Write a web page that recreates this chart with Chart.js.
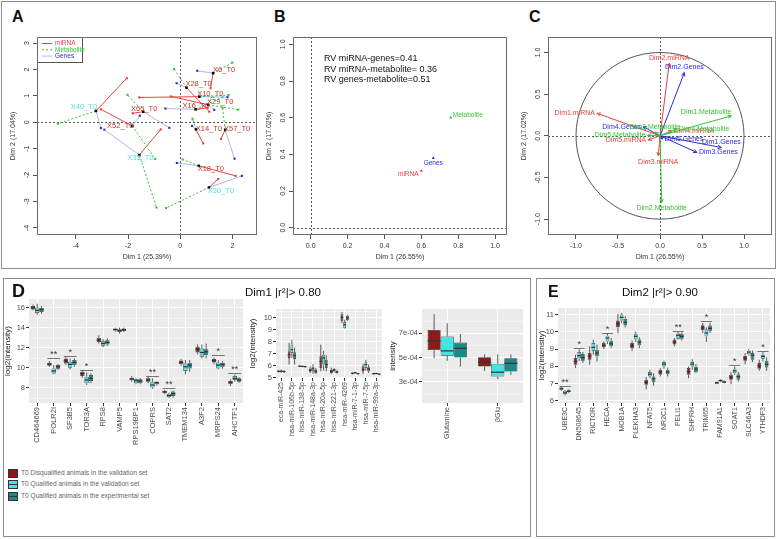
<!DOCTYPE html>
<html>
<head>
<meta charset="utf-8">
<script src="https://cdn.jsdelivr.net/npm/chart.js@4.4.1/dist/chart.umd.min.js"></script>
<style>
  body { margin: 0; background: #fff; }
  #page { position: relative; width: 778px; height: 539px; overflow: hidden; font-family: "Liberation Sans", Arial, sans-serif; }
  #page canvas { position: absolute; }
  .frame { position: absolute; border: 1px solid #8c8c8c; box-sizing: border-box; }
  .tag { position: absolute; font-weight: bold; font-size: 16px; line-height: 16px; color: #111; }
  .ttl { position: absolute; font-size: 11.5px; line-height: 12px; color: #111; white-space: nowrap; }
  .lg { position: absolute; left: 8px; font-size: 6.6px; line-height: 9px; color: #666; white-space: nowrap; }
  .key { display: inline-block; position: relative; width: 8px; height: 7px; border: 1px solid #333; vertical-align: middle; margin-right: 3px; box-sizing: content-box; }
  .key::after { content: ""; position: absolute; left: 0; right: 0; top: 3px; border-top: 1px solid #333; }
</style>
</head>
<body>
<div id="page">
  <div class="frame" style="left:1px;top:1px;width:775px;height:268px"></div>
  <div class="frame" style="left:3px;top:278px;width:528px;height:259px"></div>
  <div class="frame" style="left:536px;top:278px;width:239px;height:259px"></div>

  <canvas id="pa" width="262" height="236" style="left:0;top:30px"></canvas>
  <canvas id="pb" width="255" height="236" style="left:262px;top:30px"></canvas>
  <canvas id="pc" width="261" height="236" style="left:517px;top:30px"></canvas>
  <canvas id="d1" width="245" height="160" style="left:3px;top:290px"></canvas>
  <canvas id="d2" width="138" height="160" style="left:248px;top:290px"></canvas>
  <canvas id="d3" width="140" height="160" style="left:388px;top:290px"></canvas>
  <canvas id="e1" width="238" height="160" style="left:537px;top:290px"></canvas>

  <div class="tag" style="left:12px;top:9px">A</div>
  <div class="tag" style="left:274px;top:9px">B</div>
  <div class="tag" style="left:529px;top:9px">C</div>
  <div class="tag" style="left:12px;top:283px;font-size:18px">D</div>
  <div class="tag" style="left:548px;top:284px">E</div>
  <div class="ttl" style="left:245px;top:286px">Dim1 |r²|&gt; 0.80</div>
  <div class="ttl" style="left:622px;top:286px">Dim2 |r²|&gt; 0.90</div>

  <div class="lg" style="top:468px"><span class="key" style="background:#8b1a1a"></span>T0 Disqualified animals in the validation set</div>
  <div class="lg" style="top:479px"><span class="key" style="background:#40e6e6"></span>T0 Qualified animals in the validation set</div>
  <div class="lg" style="top:491px"><span class="key" style="background:#1e8787"></span>T0 Qualified animals in the experimental set</div>
</div>
<script>
// ---- panel A: individuals and their partial points ----
var sampleNames = ['X6_T0', 'X28_T0', 'X10_T0', 'X29_T0', 'X16_T0', 'X14_T0', 'X57_T0', 'X18_T0', 'X30_T0', 'X65_T0', 'X52_T0', 'X40_T0', 'X35_T0'];
var sampleX = [1.26, 0.24, 0.73, 1.07, 0.59, 0.60, 1.72, 0.71, 1.10, -1.42, -1.84, -3.23, -1.57];
var sampleY = [1.86, 1.31, 0.97, 0.66, 0.49, -0.27, -0.29, -1.65, -2.47, 0.40, -0.14, 0.43, -1.24];
var sampleCyan = [0, 0, 0, 0, 0, 0, 0, 0, 1, 0, 0, 1, 1];
var mirnaX = [1.16, 1.11, -1.57, -0.36, 1.05, 0.88, 1.56, 2.12, 1.45, -1.82, -3.04, -2.05, -0.75];
var mirnaY = [1.29, 0.40, 0.94, 0.98, 0.55, -0.80, -0.63, -2.03, -2.15, 0.34, 0.49, 1.67, -0.27];
var metabX = [1.99, -0.24, 1.85, 2.22, 1.62, 0.47, 1.62, 0.09, -0.55, -2.02, -0.96, -4.69, -0.91];
var metabY = [2.26, 2.02, 1.03, 0.48, 0.95, 0.13, 0.55, -1.41, -3.25, 1.04, -1.39, -0.05, -3.23];
var genesX = [0.65, -0.14, 1.81, 1.30, -0.57, 0.45, 2.08, -0.13, 2.36, -0.42, -1.55, -3.04, -2.91];
var genesY = [1.95, 1.48, 0.95, 0.47, 0.52, -0.14, -1.38, -1.54, -2.03, -0.21, 0.25, -0.22, -0.28];

// ---- panel B: groups ----
var rvTables = ['miRNA', 'Genes', 'Metabolite'];
var rvX = [0.60, 0.665, 0.76];
var rvY = [0.31, 0.38, 0.60];
var rvText = ['RV miRNA-genes=0.41', 'RV miRNA-metabolite= 0.36', 'RV genes-metabolite=0.51'];

// ---- panel C: partial axes ----
var corrNames = ['Dim1.miRNA', 'Dim2.miRNA', 'Dim3.miRNA', 'Dim4.miRNA', 'Dim5.miRNA',
  'Dim1.Genes', 'Dim2.Genes', 'Dim3.Genes', 'Dim4.Genes', 'Dim5.Genes',
  'Dim1.Metabolite', 'Dim2.Metabolite', 'Dim3.Metabolite', 'Dim4.Metabolite', 'Dim5.Metabolite'];
var corrX = [-0.75, 0.11, -0.02, 0.14, -0.14, 0.73, 0.29, 0.44, -0.20, 0.03, 0.85, 0.02, -0.06, 0.20, -0.15];
var corrY = [0.27, 0.87, -0.24, 0.06, -0.05, -0.14, 0.76, -0.20, 0.11, -0.04, 0.24, -0.80, 0.045, 0.08, 0.005];
var corrTable = [0, 0, 0, 0, 0, 1, 1, 1, 1, 1, 2, 2, 2, 2, 2];

// ---- panel D: genes (log2 intensity) [lower, q1, median, q3, upper] ----
var d1Genes = ['CD464669', 'POLR2I', 'SF3B5', 'TOR3A', 'RPS8', 'VAMP5', 'RPS19BP1', 'COPRS', 'SAT2', 'TMEM134', 'A3F2', 'MRPS24', 'AHCTF1'];
var d1Disq = [[15.73, 15.83, 16.0, 16.17, 16.3], [10.10, 10.20, 10.36, 10.49, 10.66], [10.26, 10.43, 10.69, 10.93, 11.09],
  [9.0, 9.17, 9.43, 9.60, 9.76], [12.42, 12.58, 12.78, 12.98, 13.25], [13.61, 13.71, 13.81, 13.91, 14.01],
  [8.60, 8.74, 8.87, 9.0, 9.17], [8.44, 8.60, 8.77, 8.94, 9.10], [7.34, 7.44, 7.58, 7.67, 7.77],
  [10.20, 10.36, 10.53, 10.73, 10.86], [11.32, 11.52, 11.85, 12.09, 12.32], [10.33, 10.53, 10.69, 10.86, 10.99],
  [8.17, 8.34, 8.54, 8.70, 8.84]];
var d1QualVal = [[15.3, 15.47, 15.73, 16.03, 16.4], [9.33, 9.43, 9.67, 9.93, 10.26], [9.83, 10.0, 10.33, 10.59, 10.93],
  [8.27, 8.44, 8.77, 9.10, 9.53], [12.05, 12.19, 12.42, 12.65, 12.85], [13.41, 13.58, 13.71, 13.84, 14.01],
  [8.34, 8.44, 8.70, 8.84, 8.94], [7.87, 8.01, 8.27, 8.60, 8.94], [6.94, 7.04, 7.21, 7.38, 7.51],
  [9.33, 9.67, 10.10, 10.43, 10.76], [10.93, 11.09, 11.52, 11.92, 12.32], [9.83, 9.93, 10.26, 10.53, 10.76],
  [8.60, 8.77, 8.94, 9.17, 9.33]];
var d1QualExp = [[15.4, 15.57, 15.83, 16.0, 16.17], [9.76, 9.90, 10.10, 10.26, 10.36], [10.10, 10.26, 10.53, 10.76, 10.93],
  [8.44, 8.67, 8.94, 9.27, 9.43], [12.19, 12.32, 12.52, 12.75, 12.92], [13.58, 13.68, 13.81, 13.91, 14.01],
  [8.34, 8.44, 8.67, 8.84, 8.94], [8.21, 8.34, 8.50, 8.60, 8.67], [7.01, 7.18, 7.41, 7.61, 7.71],
  [9.60, 9.93, 10.26, 10.49, 10.76], [10.93, 11.26, 11.59, 11.85, 12.42], [9.90, 10.10, 10.33, 10.49, 10.66],
  [8.50, 8.60, 8.77, 8.94, 9.03]];
var d1SigIdx = [1, 2, 3, 7, 8, 11, 12];
var d1SigMark = ['**', '*', '*', '**', '**', '*', '**'];
var d1SigLevel = [10.93, 11.16, 9.76, 9.2, 8.0, 11.26, 9.43];

// ---- panel D: miRNA ----
var d2Mirna = ['eca-miR-425', 'hsa-miR-106b-5p', 'hsa-miR-138-5p', 'hsa-miR-148a-3p', 'hsa-miR-20a-5p',
  'hsa-miR-221-3p', 'hsa-miR-4269', 'hsa-miR-7-1-3p', 'hsa-miR-7-5p', 'hsa-miR-99a-3p'];
var d2Disq = [[5.45, 5.5, 5.55, 5.6, 5.65], [6.1, 6.65, 6.92, 7.2, 7.88], [5.9, 5.93, 5.97, 6.0, 6.05],
  [5.4, 5.5, 5.62, 5.77, 5.95], [5.55, 5.82, 6.37, 6.79, 7.75], [5.33, 5.41, 5.55, 5.69, 5.85],
  [9.53, 9.67, 10.0, 10.27, 10.44], [5.3, 5.33, 5.38, 5.42, 5.45], [5.33, 5.5, 5.69, 5.96, 6.15],
  [5.28, 5.31, 5.35, 5.38, 5.42]];
var d2QualVal = [[5.4, 5.48, 5.55, 5.62, 5.7], [6.65, 7.06, 7.33, 7.75, 8.16], [5.88, 5.92, 5.95, 5.99, 6.02],
  [5.33, 5.6, 5.75, 5.88, 6.15], [5.6, 6.1, 6.65, 6.92, 7.25], [5.45, 5.55, 5.65, 5.74, 5.82],
  [9.07, 9.12, 9.4, 9.62, 9.81], [5.35, 5.38, 5.42, 5.46, 5.5], [5.6, 5.82, 6.1, 6.29, 6.5],
  [5.3, 5.33, 5.36, 5.39, 5.42]];
var d2QualExp = [[5.42, 5.48, 5.53, 5.58, 5.62], [6.1, 6.57, 6.85, 7.12, 7.5], [5.87, 5.9, 5.93, 5.97, 6.0],
  [5.35, 5.41, 5.55, 5.69, 5.8], [5.55, 5.82, 6.1, 6.5, 6.85], [5.35, 5.38, 5.48, 5.6, 5.66],
  [9.72, 9.8, 9.98, 10.14, 10.22], [5.28, 5.31, 5.35, 5.38, 5.42], [5.41, 5.55, 5.74, 5.88, 6.1],
  [5.25, 5.28, 5.31, 5.34, 5.37]];

// ---- panel D: metabolites (intensity) ----
var d3Metab = ['Glutamine', 'βGlu'];
var d3Disq = [[4.95e-4, 5.63e-4, 6.37e-4, 7.27e-4, 8.56e-4], [3.9e-4, 4.26e-4, 4.62e-4, 5.03e-4, 5.27e-4]];
var d3QualVal = [[4.73e-4, 5.16e-4, 5.55e-4, 6.73e-4, 7.82e-4], [3.22e-4, 3.44e-4, 3.8e-4, 4.48e-4, 5.27e-4]];
var d3QualExp = [[4.26e-4, 5.0e-4, 5.77e-4, 6.23e-4, 6.92e-4], [3.58e-4, 3.85e-4, 4.53e-4, 4.95e-4, 5.27e-4]];

// ---- panel E: genes on Dim2 ----
var e1Genes = ['UBE3C', 'DN508645', 'RICTOR', 'HECA', 'MOB1A', 'PLEKHA3', 'NFAT5', 'NR2C1', 'PELI1', 'SHPRH', 'TRIM65', 'FAM91A1', 'SOAT1', 'SLC46A3', 'YTHDF3'];
var e1Disq = [[6.6, 6.64, 6.71, 6.78, 6.83], [7.9, 8.09, 8.29, 8.48, 8.67], [8.09, 8.38, 8.6, 8.77, 9.16],
  [9.0, 9.1, 9.22, 9.35, 9.45], [9.93, 10.26, 10.46, 10.65, 11.04], [8.9, 9.06, 9.2, 9.35, 9.49],
  [6.68, 6.93, 7.09, 7.22, 7.38], [7.41, 7.51, 7.67, 7.8, 7.9], [9.16, 9.26, 9.41, 9.55, 9.64],
  [7.32, 7.51, 7.7, 7.9, 8.0], [9.93, 10.09, 10.22, 10.38, 10.52], [6.98, 7.0, 7.05, 7.1, 7.12],
  [6.97, 7.22, 7.38, 7.51, 7.67], [8.13, 8.33, 8.48, 8.62, 8.77], [7.74, 7.86, 8.03, 8.19, 8.38]];
var e1QualVal = [[6.31, 6.39, 6.47, 6.58, 6.64], [8.3, 8.48, 8.62, 8.83, 9.0], [8.67, 8.91, 9.1, 9.35, 9.55],
  [9.29, 9.45, 9.64, 9.78, 9.93], [10.5, 10.65, 10.84, 11.0, 11.1], [9.41, 9.55, 9.74, 9.88, 10.03],
  [7.31, 7.41, 7.55, 7.67, 7.8], [7.86, 8.0, 8.13, 8.25, 8.33], [9.55, 9.6, 9.8, 9.9, 10.03],
  [7.8, 8.0, 8.13, 8.25, 8.42], [9.41, 9.74, 9.93, 10.13, 10.26], [7.08, 7.12, 7.18, 7.22, 7.26],
  [7.51, 7.6, 7.74, 7.84, 8.0], [8.64, 8.71, 8.83, 8.91, 9.0], [8.29, 8.44, 8.58, 8.67, 8.83]];
var e1QualExp = [[6.45, 6.5, 6.56, 6.62, 6.66], [8.2, 8.33, 8.5, 8.71, 8.83], [8.29, 8.58, 8.77, 8.96, 9.26],
  [9.06, 9.16, 9.31, 9.49, 9.64], [10.26, 10.36, 10.55, 10.75, 10.9], [9.06, 9.22, 9.41, 9.55, 9.68],
  [6.89, 7.09, 7.28, 7.41, 7.6], [7.41, 7.55, 7.67, 7.8, 7.93], [9.49, 9.6, 9.74, 9.88, 9.97],
  [7.61, 7.67, 7.84, 8.0, 8.13], [9.93, 10.07, 10.2, 10.36, 10.52], [7.02, 7.05, 7.1, 7.14, 7.18],
  [7.12, 7.22, 7.41, 7.55, 7.67], [8.25, 8.38, 8.64, 8.77, 8.91], [7.74, 7.94, 8.13, 8.33, 8.52]];
var e1SigIdx = [0, 1, 3, 8, 10, 12, 14];
var e1SigMark = ['**', '*', '*', '**', '*', '*', '*'];
var e1SigLevel = [6.89, 9.06, 9.93, 10.03, 10.65, 8.09, 8.91];

var groupNames = ['T0 Disqualified animals in the validation set', 'T0 Qualified animals in the validation set', 'T0 Qualified animals in the experimental set'];

// ------------------------------------------------------------------
var FONT = '"Liberation Sans", Arial, sans-serif';
Chart.defaults.font.family = FONT;
Chart.defaults.animation = false;
Chart.defaults.responsive = false;
Chart.defaults.plugins.legend.display = false;
Chart.defaults.plugins.tooltip.enabled = false;

var RED = '#e8413f', GREEN = '#35c435', BLUE = '#2a2ad8', LAVENDER = '#b3b3ec';
var tableColors = [RED, BLUE, GREEN];
var boxFill = ['#8b1a1a', '#40e6e6', '#1e8787'];

// label shifts (px) for the sample names in A
var sampleLabelShift = [[11, -3], [12, -4], [11, -3], [12, -3], [0, -3], [13, 0], [12, -1], [12, 3], [12, 3], [1, -3], [-12, 0], [-12, -4], [1, 3]];
var corrLabelPos = ['l', 'a', 'b', 'r', 'l', 'a', 'a', 'r', 'l', 'r', 'la', 'b', 'a', 'r', 'l'];

// R base-graphics look: box, dotted zero lines, vertical y labels
var rAxes = {
  id: 'rAxes',
  beforeDatasetsDraw: function(chart) {
    var ctx = chart.ctx, a = chart.chartArea, x = chart.scales.x, y = chart.scales.y;
    var x0 = Math.round(x.getPixelForValue(0)) + 0.5, y0 = Math.round(y.getPixelForValue(0)) + 0.5;
    ctx.save();
    ctx.strokeStyle = '#555';
    ctx.lineWidth = 1;
    ctx.setLineDash([2, 2]);
    ctx.beginPath();
    ctx.moveTo(x0, a.top); ctx.lineTo(x0, a.bottom);
    ctx.moveTo(a.left, y0); ctx.lineTo(a.right, y0);
    ctx.stroke();
    ctx.restore();
  },
  afterDraw: function(chart, args, o) {
    var ctx = chart.ctx, a = chart.chartArea, x = chart.scales.x, y = chart.scales.y;
    ctx.save();
    ctx.strokeStyle = '#6b6b6b';
    ctx.lineWidth = 1;
    ctx.strokeRect(a.left + 0.5, a.top + 0.5, a.width - 1, a.height - 1);
    ctx.fillStyle = '#333';
    ctx.font = '7px ' + FONT;
    ctx.textAlign = 'center';
    ctx.textBaseline = 'middle';
    x.ticks.forEach(function(t) {
      ctx.fillText(t.value.toFixed(o.digits), x.getPixelForValue(t.value), a.bottom + 11);
    });
    y.ticks.forEach(function(t) {
      ctx.save();
      ctx.translate(a.left - 10, y.getPixelForValue(t.value));
      ctx.rotate(-Math.PI / 2);
      ctx.fillText(t.value.toFixed(o.digits), 0, 0);
      ctx.restore();
    });
    ctx.fillText(o.xTitle, (a.left + a.right) / 2, a.bottom + 22);
    ctx.translate(a.left - 24, (a.top + a.bottom) / 2);
    ctx.rotate(-Math.PI / 2);
    ctx.fillText(o.yTitle, 0, 0);
    ctx.restore();
  }
};

function rScale(min, max, step, size, horizontal) {
  return {
    type: 'linear', min: min, max: max,
    ticks: { display: false, stepSize: step, includeBounds: false },
    grid: { drawOnChartArea: false, drawTicks: true, tickLength: 4, color: '#555' },
    border: { display: false },
    afterFit: function(s) { if (horizontal) s.height = size; else s.width = size; }
  };
}

function seg(a, b, line, dot, dash) {
  return { data: [a, b], showLine: true, borderColor: line, borderWidth: 1, borderDash: dash,
    pointRadius: [0, 1.5], pointStyle: 'rect', pointBackgroundColor: dot, pointBorderWidth: 0 };
}

// ---------- A ----------
var aSets = [{
  data: sampleNames.map(function(n, i) { return { x: sampleX[i], y: sampleY[i] }; }),
  pointStyle: 'rect', pointRadius: 1.8, pointBackgroundColor: '#000', pointBorderWidth: 0, showLine: false
}];
sampleNames.forEach(function(n, i) {
  var s = { x: sampleX[i], y: sampleY[i] };
  aSets.push(seg(s, { x: mirnaX[i], y: mirnaY[i] }, RED, RED, []));
  aSets.push(seg(s, { x: metabX[i], y: metabY[i] }, GREEN, GREEN, [2, 2]));
  aSets.push(seg(s, { x: genesX[i], y: genesY[i] }, LAVENDER, BLUE, []));
});

var sampleLabels = {
  id: 'sampleLabels',
  afterDatasetsDraw: function(chart) {
    var ctx = chart.ctx, a = chart.chartArea, x = chart.scales.x, y = chart.scales.y;
    ctx.save();
    ctx.font = '7.5px ' + FONT;
    ctx.textAlign = 'center';
    ctx.textBaseline = 'middle';
    sampleNames.forEach(function(n, i) {
      ctx.fillStyle = sampleCyan[i] ? '#5fdede' : '#c0392b';
      ctx.fillText(n, x.getPixelForValue(sampleX[i]) + sampleLabelShift[i][0], y.getPixelForValue(sampleY[i]) + sampleLabelShift[i][1]);
    });
    // legend
    var L = a.left, T = a.top;
    ctx.fillStyle = '#fff';
    ctx.fillRect(L + 1, T + 1, 44, 24);
    ctx.strokeStyle = '#555';
    ctx.lineWidth = 1;
    ctx.strokeRect(L + 0.5, T + 0.5, 45, 25);
    var items = [['miRNA', RED, RED, []], ['Metabolite', GREEN, GREEN, [2, 2]], ['Genes', LAVENDER, BLUE, []]];
    ctx.font = '6.5px ' + FONT;
    ctx.textAlign = 'left';
    items.forEach(function(it, k) {
      var yy = T + 6.5 + k * 6.3;
      ctx.strokeStyle = it[1];
      ctx.setLineDash(it[3]);
      ctx.beginPath(); ctx.moveTo(L + 5, yy); ctx.lineTo(L + 15, yy); ctx.stroke();
      ctx.fillStyle = it[2];
      ctx.fillText(it[0], L + 18, yy);
    });
    ctx.restore();
  }
};

new Chart(document.getElementById('pa'), {
  type: 'scatter',
  data: { datasets: aSets },
  options: {
    layout: { padding: { top: 7, right: 5, left: 0, bottom: 0 } },
    scales: { x: rScale(-5.49, 2.94, 2, 31, true), y: rScale(-4.27, 3.23, 1, 37, false) },
    plugins: { rAxes: { digits: 0, xTitle: 'Dim 1 (25.39%)', yTitle: 'Dim 2 (17.04%)' } }
  },
  plugins: [rAxes, sampleLabels]
});

// ---------- B ----------
var rvShift = [[-13, 3], [0, 5], [17, -2]];
var rvLabels = {
  id: 'rvLabels',
  afterDatasetsDraw: function(chart) {
    var ctx = chart.ctx, x = chart.scales.x, y = chart.scales.y;
    ctx.save();
    ctx.font = '6.5px ' + FONT;
    ctx.textAlign = 'center';
    ctx.textBaseline = 'middle';
    rvTables.forEach(function(t, i) {
      ctx.fillStyle = tableColors[i];
      ctx.fillText(t, x.getPixelForValue(rvX[i]) + rvShift[i][0], y.getPixelForValue(rvY[i]) + rvShift[i][1]);
    });
    ctx.fillStyle = '#111';
    ctx.font = '9px ' + FONT;
    ctx.textAlign = 'left';
    rvText.forEach(function(t, k) {
      ctx.fillText(t, x.getPixelForValue(0.072), y.getPixelForValue(0.92) + k * 10.4);
    });
    ctx.restore();
  }
};

new Chart(document.getElementById('pb'), {
  type: 'scatter',
  data: { datasets: [{
    data: rvTables.map(function(t, i) { return { x: rvX[i], y: rvY[i] }; }),
    pointStyle: 'triangle', pointRadius: 1.8, pointBackgroundColor: tableColors, pointBorderWidth: 0
  }] },
  options: {
    layout: { padding: { top: 7, right: 10, left: 0, bottom: 0 } },
    scales: { x: rScale(-0.096, 1.065, 0.2, 31, true), y: rScale(-0.04, 1.04, 0.2, 31, false) },
    plugins: { rAxes: { digits: 1, xTitle: 'Dim 1 (26.55%)', yTitle: 'Dim 2 (17.02%)' } }
  },
  plugins: [rAxes, rvLabels]
});

// ---------- C ----------
var corrArrows = {
  id: 'corrArrows',
  afterDatasetsDraw: function(chart) {
    var ctx = chart.ctx, x = chart.scales.x, y = chart.scales.y;
    var cx = x.getPixelForValue(0), cy = y.getPixelForValue(0);
    ctx.save();
    ctx.strokeStyle = '#555';
    ctx.lineWidth = 1;
    ctx.beginPath();
    ctx.ellipse(cx, cy, x.getPixelForValue(1) - cx, cy - y.getPixelForValue(1), 0, 0, Math.PI * 2);
    ctx.stroke();
    var meta = chart.getDatasetMeta(0);
    ctx.font = '7px ' + FONT;
    ctx.textBaseline = 'middle';
    meta.data.forEach(function(pt, i) {
      var col = tableColors[corrTable[i]];
      var px = pt.x, py = pt.y;
      var ang = Math.atan2(py - cy, px - cx);
      ctx.strokeStyle = col;
      ctx.beginPath();
      ctx.moveTo(cx, cy); ctx.lineTo(px, py);
      ctx.moveTo(px - 4 * Math.cos(ang - 0.45), py - 4 * Math.sin(ang - 0.45));
      ctx.lineTo(px, py);
      ctx.lineTo(px - 4 * Math.cos(ang + 0.45), py - 4 * Math.sin(ang + 0.45));
      ctx.stroke();
      ctx.fillStyle = col;
      var p = corrLabelPos[i], tx = px, ty = py;
      if (p === 'l') { ctx.textAlign = 'right'; tx = px - 2; }
      else if (p === 'r') { ctx.textAlign = 'left'; tx = px + 2; }
      else if (p === 'a') { ctx.textAlign = 'center'; ty = py - 5; }
      else if (p === 'b') { ctx.textAlign = 'center'; ty = py + 6; }
      else { ctx.textAlign = 'right'; ty = py - 4; }
      ctx.fillText(corrNames[i], tx, ty);
    });
    ctx.restore();
  }
};

new Chart(document.getElementById('pc'), {
  type: 'scatter',
  data: { datasets: [{
    data: corrNames.map(function(n, i) { return { x: corrX[i], y: corrY[i] }; }),
    pointRadius: 0
  }] },
  options: {
    layout: { padding: { top: 7, right: 6, left: 0, bottom: 0 } },
    scales: { x: rScale(-1.333, 1.333, 0.5, 31, true), y: rScale(-1.19, 1.186, 0.5, 31, false) },
    plugins: { rAxes: { digits: 1, xTitle: 'Dim 1 (26.55%)', yTitle: 'Dim 2 (17.02%)' } }
  },
  plugins: [rAxes, corrArrows]
});

// ---------- ggplot-like boxplots ----------
var boxStats = {
  id: 'boxStats',
  beforeDraw: function(chart) {
    var ctx = chart.ctx, a = chart.chartArea;
    ctx.save();
    ctx.fillStyle = '#ebebeb';
    ctx.fillRect(a.left, a.top, a.width, a.height);
    ctx.restore();
  },
  beforeDatasetsDraw: function(chart) {
    var ctx = chart.ctx, a = chart.chartArea, y = chart.scales.y;
    var tv = y.ticks.map(function(t) { return t.value; });
    var step = tv[1] - tv[0];
    ctx.save();
    ctx.strokeStyle = '#fff';
    ctx.lineWidth = 0.5;
    [tv[0] - step / 2].concat(tv.map(function(v) { return v + step / 2; })).forEach(function(v) {
      if (v > y.min && v < y.max) {
        var p = Math.round(y.getPixelForValue(v)) + 0.25;
        ctx.beginPath(); ctx.moveTo(a.left, p); ctx.lineTo(a.right, p); ctx.stroke();
      }
    });
    ctx.strokeStyle = '#333';
    ctx.lineWidth = 0.8;
    chart.data.datasets.forEach(function(ds, i) {
      chart.getDatasetMeta(i).data.forEach(function(bar, j) {
        var s = ds.stats[j];
        ctx.beginPath();
        ctx.moveTo(bar.x, y.getPixelForValue(s[0])); ctx.lineTo(bar.x, y.getPixelForValue(s[1]));
        ctx.moveTo(bar.x, y.getPixelForValue(s[3])); ctx.lineTo(bar.x, y.getPixelForValue(s[4]));
        ctx.stroke();
      });
    });
    ctx.restore();
  },
  afterDatasetsDraw: function(chart, args, o) {
    var ctx = chart.ctx, y = chart.scales.y;
    ctx.save();
    ctx.strokeStyle = '#333';
    ctx.lineWidth = 1.2;
    chart.data.datasets.forEach(function(ds, i) {
      chart.getDatasetMeta(i).data.forEach(function(bar, j) {
        var m = y.getPixelForValue(ds.stats[j][2]);
        ctx.beginPath(); ctx.moveTo(bar.x - bar.width / 2, m); ctx.lineTo(bar.x + bar.width / 2, m); ctx.stroke();
      });
    });
    if (o.idx) {
      var first = chart.getDatasetMeta(0).data, last = chart.getDatasetMeta(2).data;
      ctx.strokeStyle = '#555';
      ctx.lineWidth = 0.8;
      ctx.fillStyle = '#333';
      ctx.font = '9px ' + FONT;
      ctx.textAlign = 'center';
      ctx.textBaseline = 'middle';
      o.idx.forEach(function(c, k) {
        var yy = Math.round(y.getPixelForValue(o.level[k])) + 0.5;
        var x1 = first[c].x - first[c].width / 2, x2 = last[c].x + last[c].width / 2;
        ctx.beginPath(); ctx.moveTo(x1, yy); ctx.lineTo(x2, yy); ctx.stroke();
        ctx.fillText(o.mark[k], (x1 + x2) / 2, yy - 3.5);
      });
    }
    ctx.restore();
  }
};

function boxChart(id, cats, groups, yCfg, lay, sig) {
  return new Chart(document.getElementById(id), {
    type: 'bar',
    data: {
      labels: cats,
      datasets: groups.map(function(g, i) {
        return {
          label: groupNames[i],
          data: g.map(function(b) { return [b[1], b[3]]; }),
          stats: g,
          backgroundColor: boxFill[i],
          borderColor: '#333',
          borderWidth: 0.7,
          borderSkipped: false,
          categoryPercentage: 0.78,
          barPercentage: 1
        };
      })
    },
    options: {
      layout: { padding: { top: lay.top, right: lay.right, left: 0, bottom: 0 } },
      scales: {
        x: {
          grid: { color: '#fff', lineWidth: 1, offset: false, tickColor: '#333', tickLength: 3 },
          border: { display: false },
          ticks: { color: '#4d4d4d', font: { size: lay.xFont }, minRotation: 90, maxRotation: 90, autoSkip: false, padding: 1 },
          afterFit: function(s) { s.height = lay.xh; }
        },
        y: {
          min: yCfg.min, max: yCfg.max,
          grid: { color: '#fff', lineWidth: 1, tickColor: '#333', tickLength: 3 },
          border: { display: false },
          ticks: { color: '#4d4d4d', font: { size: 7.5 }, padding: 1, callback: yCfg.fmt },
          afterBuildTicks: function(s) { s.ticks = yCfg.ticks.map(function(v) { return { value: v }; }); },
          title: { display: true, text: yCfg.title, color: '#222', font: { size: 8 }, padding: 0 },
          afterFit: function(s) { s.width = lay.yw; }
        }
      },
      plugins: { boxStats: sig || {} }
    },
    plugins: [boxStats]
  });
}

var asInt = function(v) { return String(v); };
var asExp = function(v) { return (v * 1e4).toFixed(0) + 'e-04'; };

boxChart('d1', d1Genes, [d1Disq, d1QualVal, d1QualExp],
  { min: 6.47, max: 16.87, ticks: [8, 10, 12, 14, 16], fmt: asInt, title: 'log2(intensity)' },
  { yw: 26, xh: 47, top: 9, right: 5, xFont: 7.5 },
  { idx: d1SigIdx, mark: d1SigMark, level: d1SigLevel });

boxChart('d2', d2Mirna, [d2Disq, d2QualVal, d2QualExp],
  { min: 4.99, max: 10.7, ticks: [5, 6, 7, 8, 9, 10], fmt: asInt, title: 'log2(intensity)' },
  { yw: 28, xh: 72, top: 19, right: 4, xFont: 7 });

boxChart('d3', d3Metab, [d3Disq, d3QualVal, d3QualExp],
  { min: 1.27e-4, max: 8.99e-4, ticks: [3e-4, 5e-4, 7e-4], fmt: asExp, title: 'intensity' },
  { yw: 34, xh: 47, top: 19, right: 5, xFont: 7 });

boxChart('e1', e1Genes, [e1Disq, e1QualVal, e1QualExp],
  { min: 5.88, max: 11.38, ticks: [6, 7, 8, 9, 10, 11], fmt: asInt, title: 'log2(intensity)' },
  { yw: 21, xh: 47, top: 18, right: 5, xFont: 7 },
  { idx: e1SigIdx, mark: e1SigMark, level: e1SigLevel });
</script>
</body>
</html>
